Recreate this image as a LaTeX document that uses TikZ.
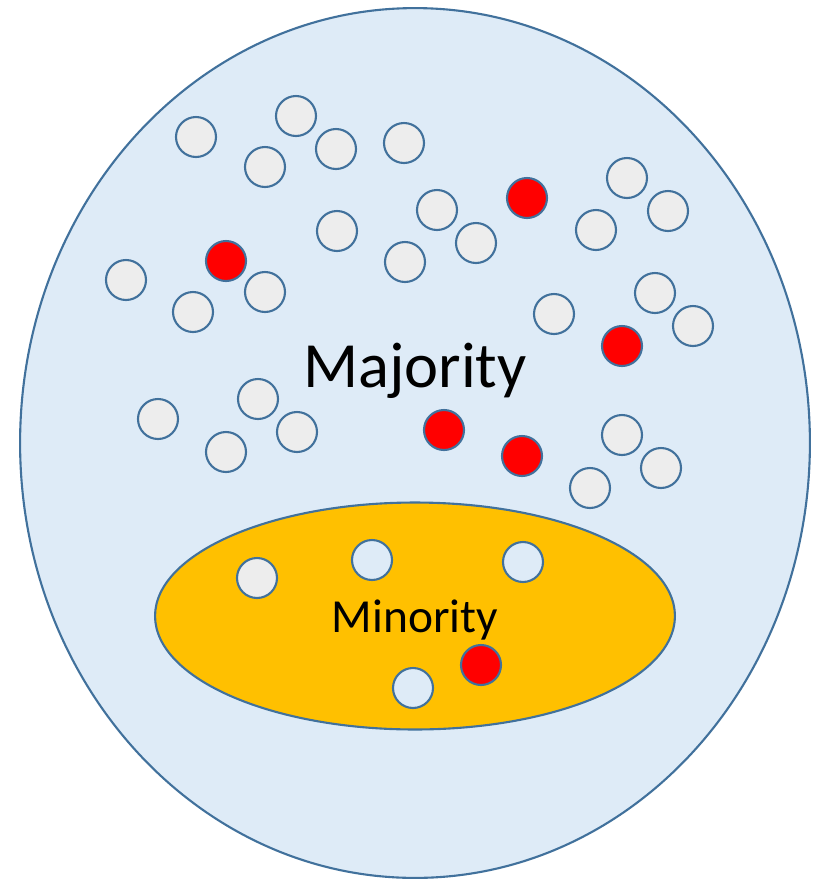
\documentclass[tikz,border=0pt]{standalone}
\usepackage{fontspec}
\setmainfont{Carlito}
\usetikzlibrary{shapes.geometric}
\definecolor{bordbleu}{HTML}{41719C}
\definecolor{fondbleu}{HTML}{DEEBF7}
\definecolor{fondgris}{HTML}{EDEDED}
\definecolor{fondor}{HTML}{FFC000}
\tikzset{
  bille/.style={circle, draw=bordbleu, line width=1.2pt, minimum size=0.8cm, inner sep=0pt},
  billegrise/.style={bille, fill=fondgris},
  billerouge/.style={bille, fill=red},
  billebleue/.style={bille, fill=fondbleu}
}
\begin{document}
\begin{tikzpicture}[x=0.02cm, y=-0.02cm]
        \useasboundingbox (0,0) rectangle (817,880);
        % Population entière
        \node[ellipse, draw=bordbleu, fill=fondbleu, line width=1.2pt, inner sep=0pt,
              minimum width=15.8cm, minimum height=17.4cm] (pop) at (415,443) {};
        % Groupe minoritaire
        \node[ellipse, draw=bordbleu, fill=fondor, line width=1.2pt, inner sep=0pt,
              minimum width=10.4cm, minimum height=4.54cm] (mino) at (415,616) {};
        % Individus gris (majorité)
        \foreach \x/\y [count=\i] in {196/137, 296/116, 265/167, 336/149, 404/143,
                337/231, 437/210, 476/243, 405/262, 627/178, 668/211, 596/230,
                126/280, 193/312, 265/292, 554/314, 655/293, 693/326,
                158/419, 258/399, 297/432, 226/452, 622/435, 661/468, 590/488}
            \node[billegrise] (g\i) at (\x,\y) {};
        % Individus rouges
        \foreach \x/\y [count=\i] in {527/198, 226/261, 622/346, 444/430, 522/456, 481/665}
            \node[billerouge] (r\i) at (\x,\y) {};
        % Individus de la minorité
        \node[billegrise] (m1) at (257,578) {};
        \node[billebleue] (m2) at (372,560) {};
        \node[billebleue] (m3) at (523,562) {};
        \node[billebleue] (m4) at (413,688) {};
        % Étiquettes
        \node[font=\fontsize{36.7}{44}\selectfont] (tmaj) at (415,371) {Majority};
        \node[font=\fontsize{27}{32}\selectfont] (tmin) at (415,620) {Minority};
    \end{tikzpicture}
\end{document}
